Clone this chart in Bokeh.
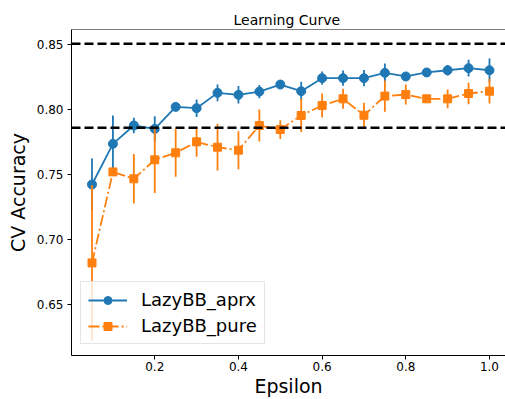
from bokeh.plotting import figure
from bokeh.models import (ColumnDataSource, Span, Legend, LegendItem, FixedTicker,
                          NumeralTickFormatter, Range1d)
from bokeh.embed import file_html
from bokeh.resources import INLINE

# ---- data ----
epsilon = [0.05, 0.10, 0.15, 0.20, 0.25, 0.30, 0.35, 0.40, 0.45, 0.50,
           0.55, 0.60, 0.65, 0.70, 0.75, 0.80, 0.85, 0.90, 0.95, 1.00]
aprx_mean = [0.7423, 0.7736, 0.7877, 0.7851, 0.8020, 0.8010, 0.8128, 0.8113, 0.8138, 0.8192,
             0.8141, 0.8241, 0.8241, 0.8241, 0.8282, 0.8254, 0.8285, 0.8302, 0.8318, 0.8302]
aprx_err = [0.0200, 0.0218, 0.0059, 0.0097, 0.0020, 0.0067, 0.0064, 0.0067, 0.0051, 0.0020,
            0.0072, 0.0051, 0.0059, 0.0062, 0.0072, 0.0020, 0.0020, 0.0041, 0.0064, 0.0090]
pure_mean = [0.6820, 0.7520, 0.7467, 0.7613, 0.7667, 0.7751, 0.7710, 0.7687, 0.7877, 0.7846,
             0.7954, 0.8031, 0.8082, 0.7956, 0.8103, 0.8115, 0.8082, 0.8082, 0.8123, 0.8141]
pure_err = [0.0600, 0.0030, 0.0190, 0.0255, 0.0185, 0.0115, 0.0180, 0.0146, 0.0123, 0.0072,
            0.0128, 0.0092, 0.0077, 0.0095, 0.0120, 0.0077, 0.0020, 0.0072, 0.0082, 0.0095]
baselines = [0.8505, 0.7860]
series_names = ["LazyBB_aprx", "LazyBB_pure"]
x_ticks = [0.2, 0.4, 0.6, 0.8, 1.0]
y_ticks = [0.65, 0.70, 0.75, 0.80, 0.85]

BLUE = "#1f77b4"
ORANGE = "#ff7f0e"
FONT = "DejaVu Sans"

xr = Range1d(0.001, 1.0383)
yr = Range1d(0.61077, 0.86154)
p = figure(width=505, height=399,
           min_border_left=71, min_border_right=0, min_border_top=29, min_border_bottom=44,
           x_range=xr, y_range=yr,
           output_backend="svg", toolbar_location=None, title="Learning Curve")

p.background_fill_color = "white"
p.border_fill_color = "white"
p.outline_line_color = None
p.xgrid.visible = False
p.ygrid.visible = False

p.title.align = "left"
p.title.offset = 162
p.title.text_font = FONT
p.title.text_font_size = "14px"
p.title.text_font_style = "normal"
p.title.text_color = "black"
p.title.standoff = 4

xax = p.below[0]
yax = p.left[0]
xax.ticker = FixedTicker(ticks=x_ticks)
yax.ticker = FixedTicker(ticks=y_ticks)
xax.formatter = NumeralTickFormatter(format="0.0")
yax.formatter = NumeralTickFormatter(format="0.00")
for ax in (xax, yax):
    ax.minor_tick_line_color = None
    ax.major_tick_in = 0
    ax.major_tick_out = 4
    ax.major_tick_line_color = "black"
    ax.axis_line_color = "black"
    ax.major_label_text_font = FONT
    ax.major_label_text_font_size = "12px"
    ax.major_label_text_color = "black"
    ax.axis_label_text_font = FONT
    ax.axis_label_text_font_size = "19px"
    ax.axis_label_text_font_style = "normal"
    ax.axis_label_text_color = "black"
xax.axis_label = "Epsilon"
yax.axis_label = "CV Accuracy"
xax.major_label_standoff = 2
xax.axis_label_standoff = 1
yax.major_label_standoff = 4
yax.axis_label_standoff = 5

# top frame edge (the reference's right edge lies outside the picture)
p.add_layout(Span(location=yr.end, dimension="width", line_color="black", line_width=1))

src_a = ColumnDataSource(dict(x=epsilon, y=aprx_mean,
                              lo=[m - e for m, e in zip(aprx_mean, aprx_err)],
                              hi=[m + e for m, e in zip(aprx_mean, aprx_err)]))
src_p = ColumnDataSource(dict(x=epsilon, y=pure_mean,
                              lo=[m - e for m, e in zip(pure_mean, pure_err)],
                              hi=[m + e for m, e in zip(pure_mean, pure_err)]))

p.segment(x0="x", y0="lo", x1="x", y1="hi", source=src_a, line_color=BLUE, line_width=1.8)
la = p.line("x", "y", source=src_a, line_color=BLUE, line_width=1.8)
sa = p.scatter("x", "y", source=src_a, marker="circle", size=9,
               fill_color=BLUE, line_color=BLUE)

p.segment(x0="x", y0="lo", x1="x", y1="hi", source=src_p, line_color=ORANGE, line_width=1.8)
lp = p.line("x", "y", source=src_p, line_color=ORANGE, line_width=1.8, line_dash="11 3 2 3")
sp = p.scatter("x", "y", source=src_p, marker="square", size=8,
               fill_color=ORANGE, line_color=ORANGE)

for b in baselines:
    p.add_layout(Span(location=b, dimension="width", line_color="black",
                      line_dash="9 4", line_width=2.5))

legend = Legend(items=[LegendItem(label=series_names[0], renderers=[la, sa]),
                       LegendItem(label=series_names[1], renderers=[lp, sp])],
                location=(9, 11), margin=0, padding=7, spacing=5,
                glyph_width=39, glyph_height=20, label_height=20, label_standoff=14,
                label_text_font=FONT, label_text_font_size="18px", label_text_color="black",
                border_line_color="#cccccc", border_line_width=1,
                background_fill_color="white", background_fill_alpha=0.8)
p.add_layout(legend)

open("out.html", "w").write(file_html(p, INLINE))
